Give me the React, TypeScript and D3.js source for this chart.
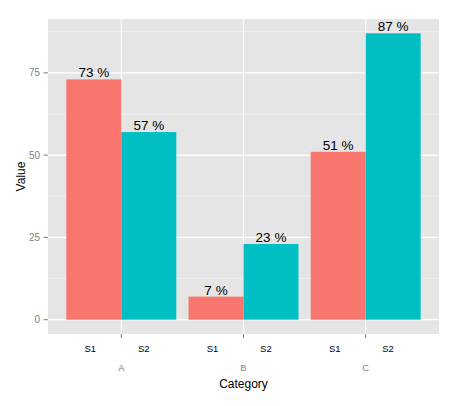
import React from "react";
import * as d3 from "d3";

const categories = ["A", "B", "C"];
const seriesNames = ["S1", "S2"];
const s1Values = [73, 7, 51];
const s2Values = [57, 23, 87];
const yTicks = [0, 25, 50, 75];
const yMinorTicks = [12.5, 37.5, 62.5, 87.5];
const seriesColors = ["#F8766D", "#00BFC4"];

const W = 461;
const H = 406;
const panel = { left: 48, right: 439, top: 19, bottom: 334 };
const FONT = "'Liberation Sans', Arial, Helvetica, sans-serif";

export default function App() {
  const maxV = d3.max([...s1Values, ...s2Values]) as number;
  const pad = maxV * 0.05;
  const y = d3.scaleLinear().domain([-pad, maxV + pad]).range([panel.bottom, panel.top]);
  const x = d3.scaleLinear().domain([0.4, categories.length + 0.6]).range([panel.left, panel.right]);
  const barW = 0.45;
  const series = [s1Values, s2Values];
  const labelOffsets = [-31, 22.4];

  return (
    <svg width={W} height={H} style={{ position: "absolute", left: 0, top: 0, background: "#fff" }}>
      <rect x={panel.left} y={panel.top} width={panel.right - panel.left} height={panel.bottom - panel.top} fill="#E5E5E5" />
      {yMinorTicks.map((t) => (
        <line key={"mn" + t} x1={panel.left} x2={panel.right} y1={y(t)} y2={y(t)} stroke="#F2F2F2" strokeWidth={0.8} />
      ))}
      {yTicks.map((t) => (
        <line key={"mj" + t} x1={panel.left} x2={panel.right} y1={y(t)} y2={y(t)} stroke="#FFFFFF" strokeWidth={1.2} />
      ))}
      {categories.map((c, i) => (
        <line key={"vx" + c} x1={x(i + 1)} x2={x(i + 1)} y1={panel.top} y2={panel.bottom} stroke="#FFFFFF" strokeWidth={1.2} />
      ))}
      {categories.map((c, i) =>
        series.map((vals, s) => {
          const x0 = s === 0 ? x(i + 1 - barW) : x(i + 1);
          const x1 = s === 0 ? x(i + 1) : x(i + 1 + barW);
          return (
            <g key={c + s}>
              <rect x={x0} y={y(vals[i])} width={x1 - x0} height={y(0) - y(vals[i])} fill={seriesColors[s]} />
              <text
                x={(x0 + x1) / 2}
                y={y(vals[i]) - 2}
                textAnchor="middle"
                fontFamily={FONT}
                fontSize={13.5}
                fill="#000"
              >
                {vals[i]} %
              </text>
            </g>
          );
        })
      )}
      {yTicks.map((t) => (
        <g key={"yt" + t}>
          <line x1={panel.left - 4.5} x2={panel.left} y1={y(t)} y2={y(t)} stroke="#7F7F7F" strokeWidth={1} />
          <text x={panel.left - 8} y={y(t)} dy="0.35em" textAnchor="end" fontFamily={FONT} fontSize={10} fill="#7F7F7F">
            {t}
          </text>
        </g>
      ))}
      {categories.map((c, i) => (
        <g key={"xt" + c}>
          <line x1={x(i + 1)} x2={x(i + 1)} y1={panel.bottom} y2={panel.bottom + 4} stroke="#7F7F7F" strokeWidth={1} />
          {seriesNames.map((s, k) => (
            <text key={s} x={x(i + 1) + labelOffsets[k]} y={349} dy="0.35em" textAnchor="middle" fontFamily={FONT} fontSize={9.5} fill="#000">
              {s}
            </text>
          ))}
          <text x={x(i + 1)} y={368} dy="0.35em" textAnchor="middle" fontFamily={FONT} fontSize={9.5} fill="#7F7F7F">
            {c}
          </text>
        </g>
      ))}
      <text x={(panel.left + panel.right) / 2} y={388} textAnchor="middle" fontFamily={FONT} fontSize={12} fill="#000">
        Category
      </text>
      <text
        transform={`translate(25,${(panel.top + panel.bottom) / 2}) rotate(-90)`}
        textAnchor="middle"
        fontFamily={FONT}
        fontSize={12}
        fill="#000"
      >
        Value
      </text>
    </svg>
  );
}
